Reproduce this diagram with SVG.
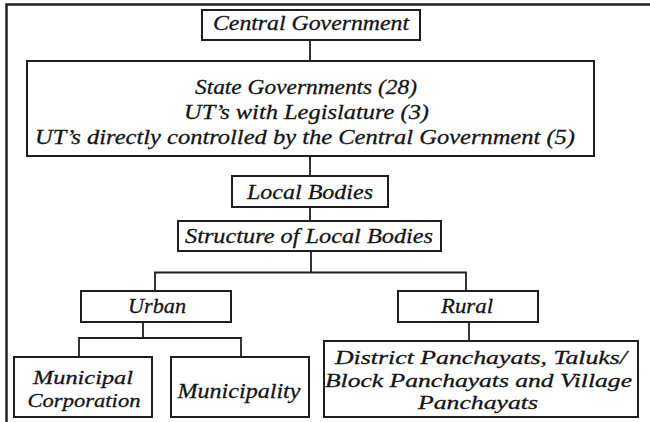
<svg xmlns="http://www.w3.org/2000/svg" width="650" height="422" viewBox="0 0 650 422">
<style>
.box{fill:#fff;stroke:#1e1e1e;stroke-width:2}
.ln{fill:none;stroke:#1e1e1e;stroke-width:1.8}
.frame{fill:none;stroke:#222;stroke-width:2.5}
text{font-family:"Liberation Serif","Times New Roman",serif;font-style:italic;font-size:21px;fill:#151515;stroke:#151515;stroke-width:0.3;text-anchor:middle}
.sm{font-size:19.5px}
</style>
<rect width="650" height="422" fill="#fff"/>
<path class="frame" d="M6.5,422 V4.5 H650"/>
<g id="connectors">
<path class="ln" d="M310,40 V61"/>
<path class="ln" d="M310,156 V176"/>
<path class="ln" d="M310,207 V221"/>
<path class="ln" d="M311,251 V272.5 M155,291 V272.5 H466 V291"/>
<path class="ln" d="M143,322 V338 M79,357 V338 H241 V357"/>
<path class="ln" d="M469,322 V341"/>
</g>
<g id="central">
<rect class="box" x="202" y="10" width="218" height="30"/>
<text x="311" y="30" textLength="196" lengthAdjust="spacingAndGlyphs">Central Government</text>
</g>
<g id="states">
<rect class="box" x="27" y="61" width="567" height="95"/>
<text x="306" y="94" textLength="222" lengthAdjust="spacingAndGlyphs">State Governments (28)</text>
<text x="306.5" y="119" textLength="245" lengthAdjust="spacingAndGlyphs">UT’s with Legislature (3)</text>
<text x="305" y="144" textLength="540" lengthAdjust="spacingAndGlyphs">UT’s directly controlled by the Central Government (5)</text>
</g>
<g id="local">
<rect class="box" x="232" y="176" width="156" height="31"/>
<text x="310" y="199" textLength="126" lengthAdjust="spacingAndGlyphs">Local Bodies</text>
</g>
<g id="structure">
<rect class="box" x="178" y="221" width="263" height="30"/>
<text x="309" y="243" textLength="248" lengthAdjust="spacingAndGlyphs">Structure of Local Bodies</text>
</g>
<g id="urban">
<rect class="box" x="81" y="291" width="150" height="31"/>
<text x="157" y="313" textLength="58" lengthAdjust="spacingAndGlyphs">Urban</text>
</g>
<g id="rural">
<rect class="box" x="398" y="291" width="140" height="31"/>
<text x="467" y="313" textLength="52" lengthAdjust="spacingAndGlyphs">Rural</text>
</g>
<g id="municipal-corporation">
<rect class="box" x="14" y="357" width="138" height="60"/>
<text class="sm" x="83" y="384" textLength="100" lengthAdjust="spacingAndGlyphs">Municipal</text>
<text class="sm" x="84" y="407" textLength="113" lengthAdjust="spacingAndGlyphs">Corporation</text>
</g>
<g id="municipality">
<rect class="box" x="171" y="357" width="138" height="60"/>
<text x="239" y="398" textLength="123" lengthAdjust="spacingAndGlyphs">Municipality</text>
</g>
<g id="panchayats">
<rect class="box" x="324" y="341" width="314" height="76"/>
<text class="sm" x="481" y="364" textLength="292" lengthAdjust="spacingAndGlyphs">District Panchayats, Taluks/</text>
<text class="sm" x="478.5" y="386.5" textLength="307" lengthAdjust="spacingAndGlyphs">Block Panchayats and Village</text>
<text class="sm" x="478" y="409" textLength="120" lengthAdjust="spacingAndGlyphs">Panchayats</text>
</g>
</svg>
